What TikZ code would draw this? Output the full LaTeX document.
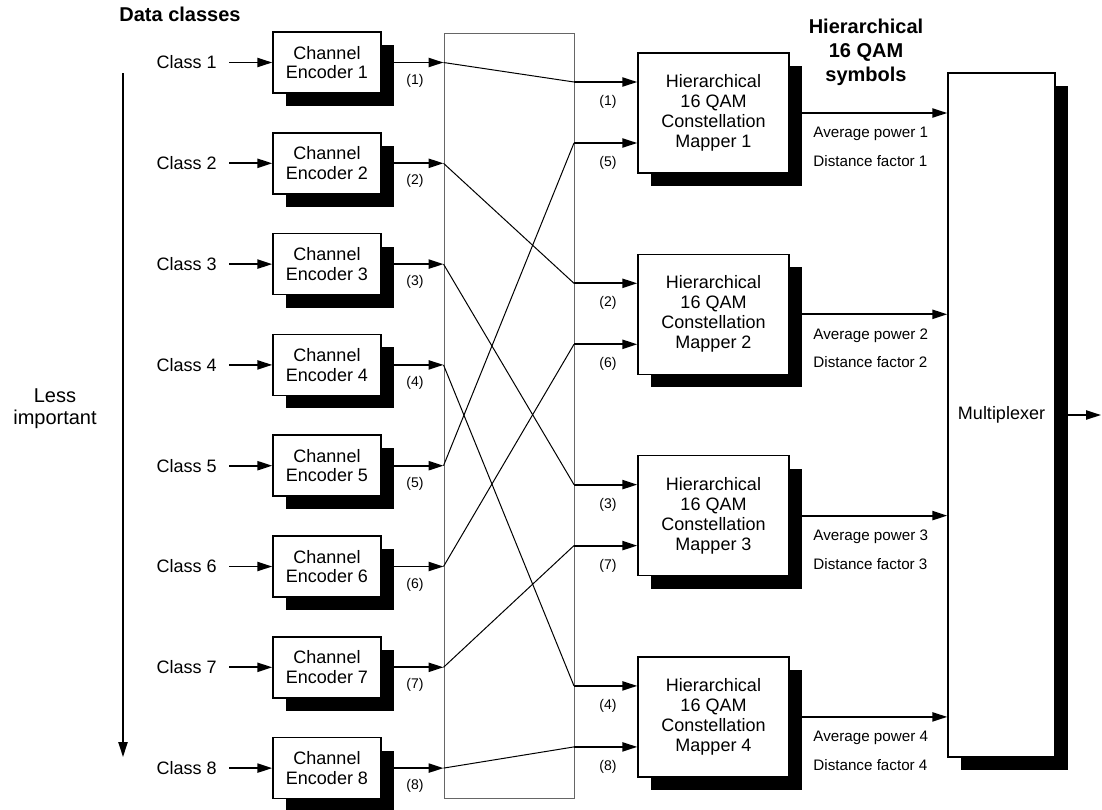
\documentclass[tikz,border=0pt]{standalone}
\usepackage{fontspec}
\setmainfont{Liberation Sans}
\usetikzlibrary{arrows.meta,shadows,calc}

\begin{document}
\begin{tikzpicture}[x=0.5pt,y=-0.5pt,
  font=\fontsize{9}{9.75}\selectfont,
  blk/.style={draw, fill=white, line width=0.75pt, inner sep=0pt, align=center,
    drop shadow={shadow xshift=6.5pt, shadow yshift=-6.5pt, fill=black, opacity=1}},
  encbox/.style={blk, minimum width=54pt, minimum height=30.5pt},
  mapbox/.style={blk, minimum width=75.5pt, minimum height=60pt, font=\fontsize{9}{10}\selectfont},
  muxbox/.style={blk, minimum width=53.5pt, minimum height=342pt},
  flow/.style={line width=0.9pt, -{Triangle[length=7.5pt,width=4.6pt]}},
  wire/.style={line width=0.5pt},
  tag/.style={font=\fontsize{7}{8}\selectfont},
  note/.style={font=\fontsize{7.6}{9}\selectfont, anchor=west, inner sep=0pt},
  heading/.style={font=\bfseries\fontsize{10}{12}\selectfont}]

\useasboundingbox (0,0) rectangle (1102,809);

% headings
\node[heading, anchor=west, inner sep=0pt] (hdata) at (119,14) {Data classes};
\node[heading, align=center] (hsym) at (866,52) {Hierarchical\\16 QAM\\symbols};

% importance arrow
\coordinate (imptop) at (123,73);
\coordinate (impbot) at (123,757);
\draw[flow] (imptop) -- (impbot);
\node[align=center, font=\fontsize{10}{11}\selectfont] (less) at (55,409) {Less\\important};

% interleaver
\node[draw=black!60, line width=0.5pt, minimum width=65pt, minimum height=382.5pt, inner sep=0pt] (il) at (509,415.5) {};

% channel encoders with their class inputs
\foreach \i in {1,...,8}{
  \pgfmathsetmacro{\ey}{62.5+100.8*(\i-1)}
  \node[encbox] (e\i) at (327,\ey) {Channel\\Encoder \i};
  \node[anchor=east, inner sep=0pt] (c\i) at (217,\ey) {Class \i};
  \coordinate (cs\i) at (229,\ey);
  \draw[flow] (cs\i) -- (e\i.west);
  \coordinate (in\i) at (il.west |- e\i.west);
  \draw[flow] (e\i.east) -- (in\i);
  \node[tag] (t\i) at (415,\ey+18) {(\i)};
}

% multiplexer
\node[muxbox] (mux) at (1001.5,415) {Multiplexer};
\coordinate (outend) at (1101,415);
\draw[flow] (mux.east) -- (outend);

% constellation mappers
\foreach \k/\a/\b in {1/1/5,2/2/6,3/3/7,4/4/8}{
  \pgfmathsetmacro{\my}{113+201.3*(\k-1)}
  \node[mapbox] (m\k) at (713.5,\my) {Hierarchical\\16 QAM\\Constellation\\Mapper \k};
  \coordinate (oa\k) at (574,\my-31);
  \coordinate (ob\k) at (574,\my+30);
  \draw[flow] (oa\k) -- (oa\k -| m\k.west);
  \draw[flow] (ob\k) -- (ob\k -| m\k.west);
  \node[tag] (ta\k) at (608,\my-11) {(\a)};
  \node[tag] (tb\k) at (608,\my+50) {(\b)};
  \draw[wire] (in\a) -- (oa\k);
  \draw[wire] (in\b) -- (ob\k);
  \draw[flow] (m\k.east) -- (m\k.east -| mux.west);
  \node[note] (ap\k) at (813,\my+21) {Average power \k};
  \node[note] (df\k) at (813,\my+48) {Distance factor \k};
}
\end{tikzpicture}
\end{document}
